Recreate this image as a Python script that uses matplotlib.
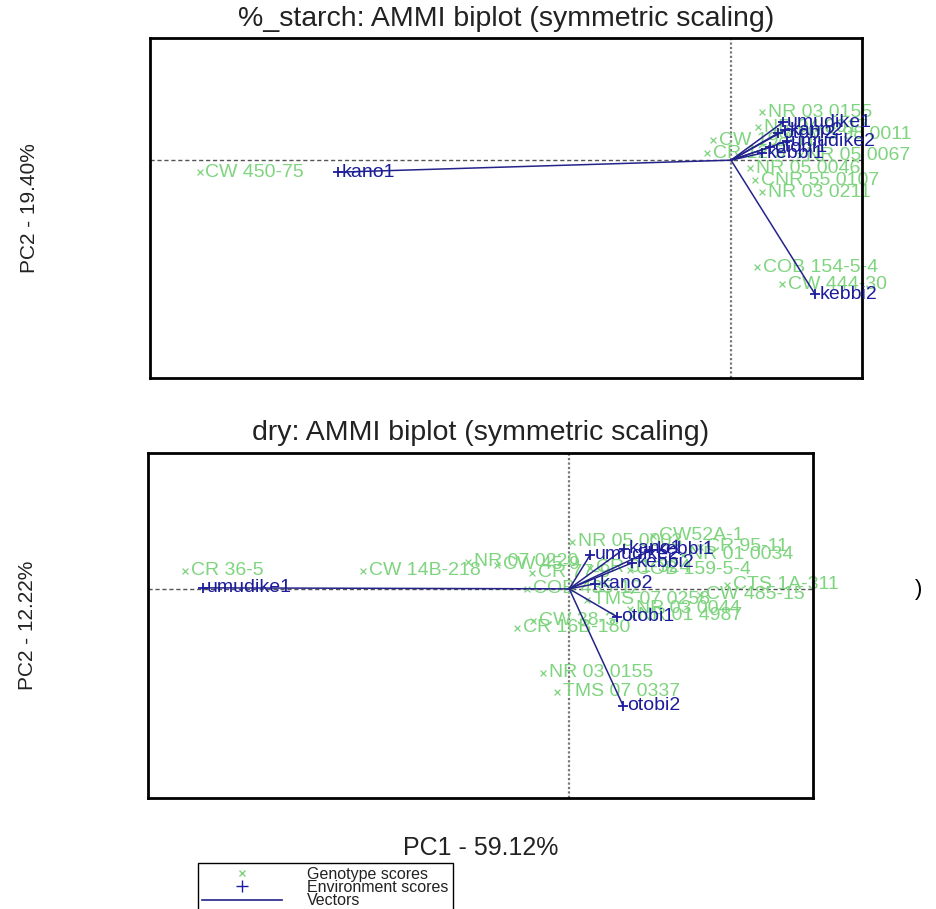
import matplotlib
matplotlib.use('Agg')
import matplotlib.pyplot as plt
from matplotlib.lines import Line2D

plt.rcParams['font.family'] = ['Liberation Sans', 'DejaVu Sans']

## %_starch panel
starch_gen = ['CW 450-75', 'NR 03 0155', 'NR 04 0017', 'CW 198-11', 'TMS 98 0011',
              'CR 12-5', 'NR 05 0067', 'NR 05 0046', 'CNR 55 0107', 'NR 03 0211',
              'COB 154-5-4', 'CW 444-30']
starch_gen_pc1 = [-5.31, 0.31, 0.27, -0.18, 0.59, -0.24, 0.69, 0.19, 0.24, 0.31, 0.26, 0.51]
starch_gen_pc2 = [-0.12, 0.48, 0.33, 0.20, 0.26, 0.07, 0.05, -0.08, -0.20, -0.32, -1.07, -1.24]

starch_env = ['kano1', 'umudike1', 'kano2', 'otobi2', 'umudike2', 'otobi1', 'kebbi1', 'kebbi2']
starch_env_pc1 = [-3.93, 0.52, 0.54, 0.47, 0.56, 0.39, 0.31, 0.84]
starch_env_pc2 = [-0.12, 0.38, 0.30, 0.27, 0.19, 0.13, 0.07, -1.34]

## dry panel
dry_gen = ['CR 36-5', 'CW 14B-218', 'NR 07 0220', 'CW 45-9', 'CR 77-9', 'COB 435-12',
           'NR 05 0003', 'CW52A-1', 'CR 95-11', 'NR 01 0034', 'COB 159-5-4', 'CR 01-324',
           'CTS 1A-311', 'CW 485-15', 'TMS 07 0258', 'NR 03 0044', 'NR 01 4987',
           'CW 38-3', 'CR 16B-180', 'NR 03 0155', 'TMS 07 0337']
dry_gen_pc1 = [-3.84, -2.06, -1.01, -0.72, -0.37, -0.42, 0.03, 0.84, 1.31, 1.14, 0.61, 0.21,
               1.58, 1.31, 0.18, 0.61, 0.63, -0.36, -0.52, -0.26, -0.12]
dry_gen_pc2 = [0.18, 0.18, 0.27, 0.24, 0.16, 0.00, 0.47, 0.53, 0.42, 0.34, 0.19, 0.21,
               0.04, -0.06, -0.11, -0.20, -0.27, -0.32, -0.39, -0.84, -1.03]

dry_env = ['umudike1', 'umudike2', 'kano1', 'kebbi1', 'kebbi2', 'kano2', 'otobi1', 'otobi2']
dry_env_pc1 = [-3.66, 0.21, 0.55, 0.83, 0.63, 0.26, 0.48, 0.54]
dry_env_pc2 = [0.01, 0.34, 0.40, 0.39, 0.26, 0.05, -0.28, -1.17]

gen_col = '#7fd47f'
env_col = '#1c1c9c'
vec_col = '#23238a'
txt_col = '#222222'


def biplot(ax, title, ylab, gen, gx, gy, env, ex, ey, xlim, ylim):
    ax.axhline(0, color='#555555', lw=1, ls=(0, (3, 2)), zorder=1)
    ax.axvline(0, color='#777777', lw=1.6, ls=(0, (1, 1)), zorder=1)
    ax.scatter(gx, gy, marker='x', s=18, color=gen_col, lw=0.9, zorder=2)
    for name, x, y in zip(gen, gx, gy):
        ax.annotate(name, (x, y), xytext=(4, 0), textcoords='offset points',
                    ha='left', va='center', fontsize=14, color=gen_col, zorder=2)
    for x, y in zip(ex, ey):
        ax.plot([0, x], [0, y], color=vec_col, lw=1.1, zorder=3)
    ax.scatter(ex, ey, marker='+', s=60, color=env_col, lw=1.3, zorder=4)
    for name, x, y in zip(env, ex, ey):
        ax.annotate(name, (x, y), xytext=(3, 0), textcoords='offset points',
                    ha='left', va='center', fontsize=14, color=env_col, zorder=4)
    ax.set_xlim(xlim)
    ax.set_ylim(ylim)
    ax.set_xticks([])
    ax.set_yticks([])
    for s in ax.spines.values():
        s.set_linewidth(2)
        s.set_color('black')
    ax.set_title(title, fontsize=20.5, pad=9, color=txt_col)
    ax.set_ylabel(ylab, fontsize=15, labelpad=80, color=txt_col)


fig = plt.figure(figsize=(9.37, 9.09), dpi=100)

ax1 = fig.add_axes([0.160, 0.584, 0.760, 0.374])
biplot(ax1, '%_starch: AMMI biplot (symmetric scaling)', 'PC2 - 19.40%',
       starch_gen, starch_gen_pc1, starch_gen_pc2,
       starch_env, starch_env_pc1, starch_env_pc2,
       (-5.81, 1.31), (-2.18, 1.22))

ax2 = fig.add_axes([0.158, 0.122, 0.710, 0.380])
biplot(ax2, 'dry: AMMI biplot (symmetric scaling)', 'PC2 - 12.22%',
       dry_gen, dry_gen_pc1, dry_gen_pc2,
       dry_env, dry_env_pc1, dry_env_pc2,
       (-4.21, 2.44), (-2.09, 1.36))

fig.text(0.513, 0.067, 'PC1 - 59.12%', ha='center', va='center', fontsize=18, color=txt_col)
fig.text(0.980, 0.351, ')', ha='center', va='center', fontsize=16)

handles = [Line2D([], [], ls='none', marker='x', color=gen_col, markersize=5),
           Line2D([], [], ls='none', marker='+', color=env_col, markersize=8),
           Line2D([], [], color=vec_col, lw=1.2)]
leg = fig.legend(handles, ['Genotype scores', 'Environment scores', 'Vectors'],
                 loc='upper left', bbox_to_anchor=(198 / 937, 1 - 863 / 909),
                 borderaxespad=0, fontsize=11.5, handlelength=5, handletextpad=1.6,
                 labelspacing=-0.12, borderpad=0.25, fancybox=False,
                 edgecolor='black', framealpha=1)
leg.get_frame().set_linewidth(1)
for t in leg.get_texts():
    t.set_color(txt_col)

fig.savefig('out.png', dpi=100)
